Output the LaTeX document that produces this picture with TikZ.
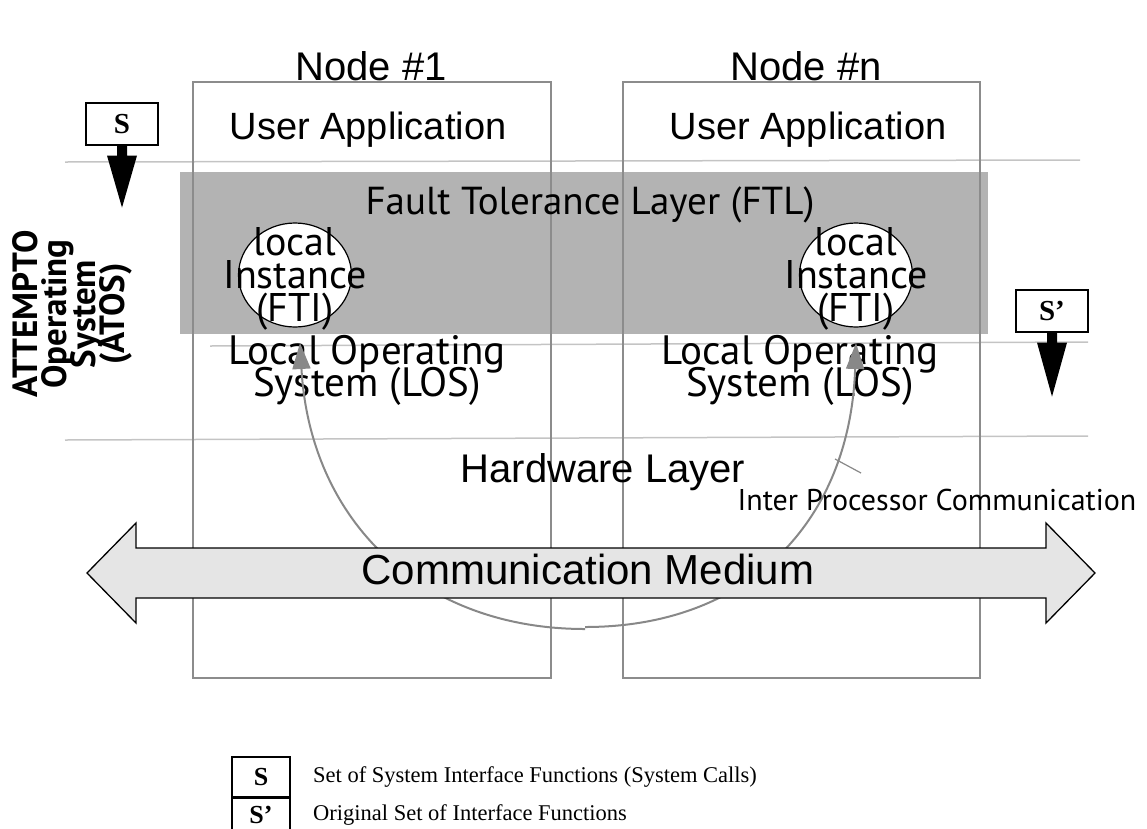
\documentclass[tikz,border=0pt]{standalone}
\usepackage{fontspec}
\setmainfont{Liberation Serif}
\newfontfamily\arialf{Liberation Sans}
\newfontfamily\ptsans{PT Sans}
\usetikzlibrary{arrows.meta,calc,shapes.geometric}
\definecolor{ftlgray}{HTML}{B3B3B3}
\definecolor{medgray}{HTML}{E5E5E5}
\definecolor{sepgray}{HTML}{C4C4C4}
\definecolor{colgray}{HTML}{8C8C8C}
\definecolor{ipcgray}{HTML}{888888}
\begin{document}
\begin{tikzpicture}[x=1pt,y=-1pt,
  lbl/.style={inner sep=0pt, align=center},
  headf/.style={lbl, font=\arialf\fontsize{40}{42}\selectfont},
  uaf/.style={lbl, font=\arialf\fontsize{38}{40}\selectfont},
  bigf/.style={lbl, font=\arialf\fontsize{40}{42}\selectfont},
  optf/.style={lbl, font={\ptsans\fontsize{41}{32}\selectfont\lineskiplimit=-60pt\relax}},
  ftif/.style={lbl, font={\ptsans\fontsize{40}{33}\selectfont\lineskiplimit=-60pt\relax}},
  atosf/.style={lbl, font={\ptsans\bfseries\fontsize{35}{29}\selectfont\lineskiplimit=-60pt\relax}},
  sepline/.style={sepgray, line width=1.5pt},
  colbox/.style={draw=colgray, line width=1.2pt},
  ifbox/.style={draw=black, line width=1.2pt, fill=white, minimum width=72pt, minimum height=42pt, inner sep=0pt, font=\bfseries\fontsize{29}{30}\selectfont},
  legbox/.style={draw=black, line width=1.2pt, minimum width=58pt, minimum height=40pt, inner sep=0pt, font=\bfseries\fontsize{26}{28}\selectfont},
  legline/.style={draw=black, line width=1.2pt},
  legtext/.style={inner sep=0pt, anchor=west, font=\fontsize{22.5}{24}\selectfont},
  ipc/.style={ipcgray, line width=2pt},
  ipctip/.style={ipc, -{Triangle[length=26pt,width=18pt]}},
  fti/.style={ellipse, draw=black, line width=1.2pt, fill=white, minimum width=113pt, minimum height=104pt, inner sep=0pt}
]
\useasboundingbox (0,0) rectangle (1147,828);

% separator lines
\draw[sepline] (65,162) -- (1080,160);
\draw[sepline] (210,346) -- (1088,342);
\draw[sepline] (65,440) -- (1088,436);

% fault tolerance layer
\fill[ftlgray] (180,172) rectangle (988,334);

% node columns
\draw[colbox] (193,82) rectangle (551,678);
\draw[colbox] (623,82) rectangle (980,678);

% labels
\node[headf] (n1) at (371,66) {Node \#1};
\node[headf] (nn) at (806,66) {Node \#n};
\node[uaf] (ua1) at (368,130) {User Application};
\node[uaf] (ua2) at (808,130) {User Application};
\node[lbl, font=\ptsans\fontsize{39}{40}\selectfont] (ftl) at (590,205) {Fault Tolerance Layer (FTL)};

% local instances
\node[fti] (c1) at (295,275) {};
\node[fti] (c2) at (856,275) {};
\node[ftif] (t1) at (295,279) {local\\Instance\\(FTI)};
\node[ftif] (t2) at (856,279) {local\\Instance\\(FTI)};

\node[optf] (los1) at (367,370) {Local Operating\\System (LOS)};
\node[optf] (los2) at (800,370) {Local Operating\\System (LOS)};
\node[bigf] (hw) at (603,472) {Hardware Layer};

% ATOS label
\node[atosf, rotate=90] (atos) at (72,314) {ATTEMPTO\\Operating\\System\\(ATOS)};

% IPC curve
\coordinate (tipl) at (300,343);
\coordinate (tipr) at (856,343);
\coordinate (botl) at (585,629);
\coordinate (botr) at (585,627);
\draw[ipctip] (botl) .. controls (420,629) and (310,520) .. (tipl);
\draw[ipctip] (botr) .. controls (750,627) and (850,520) .. (tipr);
\node[lbl, font=\ptsans\fontsize{30}{32}\selectfont] (ipclbl) at (937,500) {Inter Processor Communication};
\coordinate (ipcA) at (835,459);
\coordinate (ipcB) at (861,473);
\draw[ipcgray, line width=1.2pt] (ipcA) -- (ipcB);

% communication medium
\draw[black, line width=1.3pt, fill=medgray]
  (87,573) -- (136,523) -- (136,548) -- (1046,548) -- (1046,523) -- (1095,573)
  -- (1046,623) -- (1046,598) -- (136,598) -- (136,623) -- cycle;
\node[bigf, font=\arialf\fontsize{42}{44}\selectfont] (cm) at (588,569) {Communication Medium};

% S and S' interfaces
\node[ifbox] (s) at (122,124) {S};
\fill[black] ($(s.south)+(-5,0)$) -- ++(0,10) -- ++(-10,0) -- ($(s.south)+(0,62)$)
  -- ($(s.south)+(15,10)$) -- ++(-10,0) -- ++(0,-10) -- cycle;
\node[ifbox] (sp) at (1052,311) {S'};
\fill[black] ($(sp.south)+(-5,0)$) -- ++(0,10) -- ++(-10,0) -- ($(sp.south)+(0,64)$)
  -- ($(sp.south)+(15,10)$) -- ++(-10,0) -- ++(0,-10) -- cycle;

% legend
\node[legbox] (ls) at (261,777) {S};
\node[legtext] (lst) at (313,777) {Set of System Interface Functions (System Calls)};
\node[inner sep=0pt, font=\bfseries\fontsize{26}{28}\selectfont] (lsp) at (261,815) {S'};
\draw[legline] ($(lsp)+(-29,16)$) |- ($(lsp)+(0,-17)$) -| ($(lsp)+(29,16)$);
\node[legtext] (lspt) at (313,815) {Original Set of Interface Functions};
\end{tikzpicture}
\end{document}
